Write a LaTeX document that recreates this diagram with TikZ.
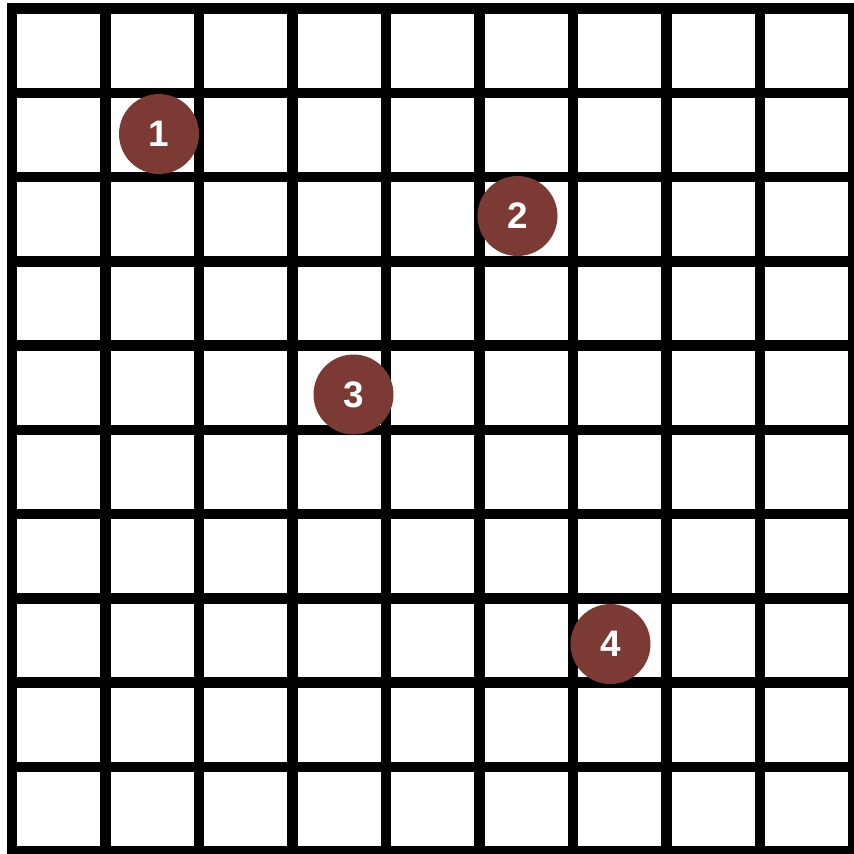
\documentclass[tikz,border=0pt]{standalone}
\usepackage{fontspec}
\setmainfont{Liberation Sans}
\definecolor{markbrown}{RGB}{123,58,52}
\usetikzlibrary{positioning}

\begin{document}
\begin{tikzpicture}[
  x=0.02cm, y=-0.02cm,
  gridline/.style={line width=0.21cm,black,line cap=rect},
  marker/.style={circle,fill=markbrown,text=white,inner sep=0pt,
                 minimum size=1.6cm,font=\fontsize{21}{21}\selectfont\bfseries},
]
  \useasboundingbox (0,0) rectangle (854,853);
  \clip (0,0) rectangle (854,853);

  % Grid
  \foreach \i in {0,...,9}
    \draw[gridline] (12+93.5*\i, 8.5) -- (12+93.5*\i, 851);
  \foreach \j in {0,...,10}
    \draw[gridline] (12, 8.5+84.25*\j) -- (853.5, 8.5+84.25*\j);

  % Markers
  \node[marker] (m1) at (159, 134) {1};
  \node[marker] (m2) at (517.5, 216) {2};
  \node[marker] (m3) at (353.5, 394.5) {3};
  \node[marker] (m4) at (610.5, 644) {4};
\end{tikzpicture}
\end{document}
